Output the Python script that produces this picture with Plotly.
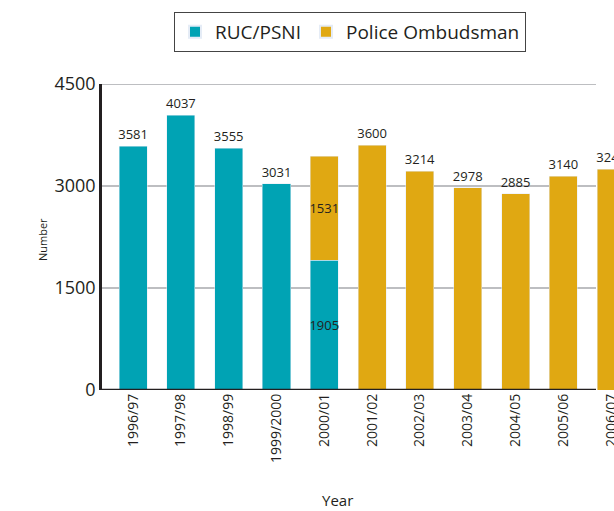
import plotly.graph_objs as go

years = ['1996/97', '1997/98', '1998/99', '1999/2000', '2000/01', '2001/02',
         '2002/03', '2003/04', '2004/05', '2005/06', '2006/07']
ruc_psni = [3581, 4037, 3555, 3031, 1905, None, None, None, None, None, None]
ombudsman = [None, None, None, None, 1531, 3600, 3214, 2978, 2885, 3140, 3245]
y_ticks = [0, 1500, 3000, 4500]

teal = '#00a3b4'
gold = '#e0a812'
ink = '#231f20'
font_family = 'Open Sans'


def labels(values):
    return ['' if v is None else str(v) for v in values]


ruc_pos = ['inside' if o is not None else 'outside' for o in ombudsman]
omb_pos = ['inside' if r is not None else 'outside' for r in ruc_psni]

ruc_trace = go.Bar(x=years, y=ruc_psni, name='RUC/PSNI', marker=dict(color=teal),
                   text=labels(ruc_psni), textposition=ruc_pos, insidetextanchor='middle',
                   textangle=0, textfont=dict(size=13, color=ink, family=font_family),
                   constraintext='none', cliponaxis=False)
omb_trace = go.Bar(x=years, y=ombudsman, name='Police Ombudsman', marker=dict(color=gold),
                   text=labels(ombudsman), textposition=omb_pos, insidetextanchor='middle',
                   textangle=0, textfont=dict(size=13, color=ink, family=font_family),
                   constraintext='none', cliponaxis=False)

W, H = 614, 511
left, top, bottom = 102, 84, 121
plot_w = W - left
plot_h = H - top - bottom

# grid lines and x axis line stop short of the right edge, like the original
line_end = (596 - left) / float(plot_w)
shapes = [dict(type='line', xref='paper', yref='y', x0=0, x1=line_end, y0=v, y1=v,
               line=dict(color='#a7a9ac', width=1.5), layer='below') for v in y_ticks[1:]]
shapes.append(dict(type='line', xref='paper', yref='y', x0=0, x1=line_end, y0=0, y1=0,
                   line=dict(color=ink, width=2.5), layer='above'))

layout = go.Layout(
    width=W, height=H,
    margin=dict(l=left, r=0, t=top, b=bottom, autoexpand=False),
    paper_bgcolor='white', plot_bgcolor='white',
    font=dict(family=font_family, color=ink),
    barmode='stack',
    bargap=0.414,
    xaxis=dict(range=[-0.65, 10.06], tickangle=-90, tickfont=dict(size=14, color=ink),
               showgrid=False, showline=False, ticks=''),
    yaxis=dict(range=[0, 4500], tickvals=y_ticks, tickfont=dict(size=18, color=ink),
               showgrid=False, zeroline=False, showline=True, linecolor=ink, linewidth=2.5,
               ticks=''),
    legend=dict(orientation='h', x=(350 - left) / float(plot_w), xanchor='center',
                y=(top + plot_h - 12) / float(plot_h), yanchor='top', traceorder='normal',
                bordercolor='#444', borderwidth=1, font=dict(size=19, color=ink),
                itemsizing='constant'),
    shapes=shapes,
    annotations=[
        dict(text='Year', xref='paper', yref='paper', x=(337 - left) / float(plot_w),
             y=(top + plot_h - 500) / float(plot_h),
             showarrow=False, font=dict(size=15, color=ink), xanchor='center', yanchor='middle'),
        dict(text='Number', xref='paper', yref='paper', x=(42 - left) / float(plot_w),
             y=(top + plot_h - 240) / float(plot_h),
             showarrow=False, textangle=-90, font=dict(size=11, color=ink),
             xanchor='center', yanchor='middle'),
    ],
)

fig = go.Figure(data=[ruc_trace, omb_trace], layout=layout)
# drop the default 8px page margin so the figure fills the window
fig.write_html('out.html', config={'displayModeBar': False},
               post_script="document.body.style.margin = '0';")
